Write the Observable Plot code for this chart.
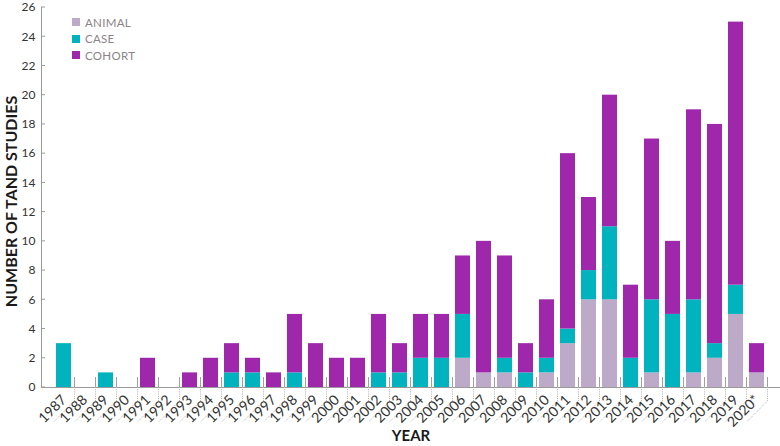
<!DOCTYPE html>
<html>
<head>
<meta charset="utf-8">
<script src="https://cdn.jsdelivr.net/npm/d3@7"></script>
<script src="https://cdn.jsdelivr.net/npm/@observablehq/plot@0.6"></script>
<style>
  html, body { margin: 0; padding: 0; background: #fff; }
  #wrap { position: relative; width: 780px; height: 446px; font-family: Lato, "Open Sans", sans-serif; }
  #legend { position: absolute; left: 72px; top: 14px; font-size: 11.5px; color: #8a8488; letter-spacing: 0.3px; }
  #legend .row { display: flex; align-items: center; height: 16.5px; }
  #legend .sw { width: 8px; height: 8px; margin-right: 5px; }
</style>
</head>
<body>
<div id="wrap"><div id="legend"></div></div>
<script>
const years = ["1987","1988","1989","1990","1991","1992","1993","1994","1995","1996","1997","1998","1999","2000","2001","2002","2003","2004","2005","2006","2007","2008","2009","2010","2011","2012","2013","2014","2015","2016","2017","2018","2019","2020*"];
const animal = [0,0,0,0,0,0,0,0,0,0,0,0,0,0,0,0,0,0,0,2,1,1,0,1,3,6,6,0,1,0,1,2,5,1];
const caseS  = [3,0,1,0,0,0,0,0,1,1,0,1,0,0,0,1,1,2,2,3,0,1,1,1,1,2,5,2,5,5,5,1,2,0];
const cohort = [0,0,0,0,2,0,1,2,2,1,1,4,3,2,2,4,2,3,3,4,9,7,2,4,12,5,9,5,11,5,13,15,18,2];
const seriesNames = ["ANIMAL","CASE","COHORT"];
const seriesColors = ["#bcaac8","#00b3be","#9e27ac"];
const yTicks = [0,2,4,6,8,10,12,14,16,18,20,22,24,26];

const rows = [];
years.forEach((yr, i) => {
  rows.push({year: yr, type: "ANIMAL", value: animal[i]});
  rows.push({year: yr, type: "CASE", value: caseS[i]});
  rows.push({year: yr, type: "COHORT", value: cohort[i]});
});

function axisDecor(index, scales, values, dimensions) {
  const x = scales.x, y = scales.y;
  const g = d3.create("svg:g");
  const x0 = dimensions.marginLeft, x1 = dimensions.width - dimensions.marginRight;
  const yb = y(0), yt = y(26);
  const step = x(years[1]) - x(years[0]);
  const bw = typeof x.bandwidth === "function" ? x.bandwidth() : x.bandwidth;
  g.append("line").attr("x1", x0 + 0.5).attr("x2", x0 + 0.5).attr("y1", yt).attr("y2", yb).attr("stroke", "#9a9a9a");
  for (const t of yTicks) {
    g.append("line").attr("x1", x0).attr("x2", x0 + 4).attr("y1", y(t)).attr("y2", y(t)).attr("stroke", "#9a9a9a");
  }
  g.append("line").attr("x1", x0).attr("x2", x1).attr("y1", yb + 0.5).attr("y2", yb + 0.5).attr("stroke", "#9a9a9a").attr("stroke-width", 1.2);
  for (const yr of years) {
    const sx = Math.round(x(yr) + bw + (step - bw) / 2) + 0.5;
    g.append("line").attr("x1", sx).attr("x2", sx).attr("y1", yb - 10).attr("y2", yb).attr("stroke", "#a0a0a0");
    g.append("path")
      .attr("d", `M${sx},${yb}V${yb + 14}l${-21},${21}`)
      .attr("fill", "none").attr("stroke", "#b0b0b0").attr("stroke-dasharray", "1,1.2");
  }
  return g.node();
}

const chart = Plot.plot({
  width: 780,
  height: 446,
  marginLeft: 41,
  marginRight: 0,
  marginTop: 7,
  marginBottom: 59,
  style: {fontFamily: "Lato, 'Open Sans', sans-serif", background: "#fff"},
  x: {domain: years, padding: 0.28, label: null},
  y: {domain: [0, 26], label: null},
  color: {domain: seriesNames, range: seriesColors},
  marks: [
    Plot.barY(rows, {x: "year", y: "value", fill: "type"}),
    axisDecor,
    Plot.axisY({ticks: yTicks, tickSize: 0, tickPadding: 6, fontSize: 12, color: "#333", label: null}),
    Plot.axisX({tickSize: 0, tickPadding: 10, tickRotate: -45, dx: 0, fontSize: 14, color: "#333", label: null}),
    Plot.text(["YEAR"], {frameAnchor: "bottom", dy: 53, fontWeight: "bold", fontSize: 15, fill: "#1a1a1a"}),
    Plot.text(["NUMBER OF TAND STUDIES"], {frameAnchor: "left", textAnchor: "middle", rotate: -90, dx: -30, dy: 4, fontWeight: "bold", fontSize: 16, fill: "#1a1a1a"})
  ]
});

const wrap = document.getElementById("wrap");
wrap.insertBefore(chart, wrap.firstChild);
const legend = document.getElementById("legend");
seriesNames.forEach((n, i) => {
  const r = document.createElement("div");
  r.className = "row";
  r.innerHTML = `<span class="sw" style="background:${seriesColors[i]}"></span><span>${n}</span>`;
  legend.appendChild(r);
});
</script>
</body>
</html>
